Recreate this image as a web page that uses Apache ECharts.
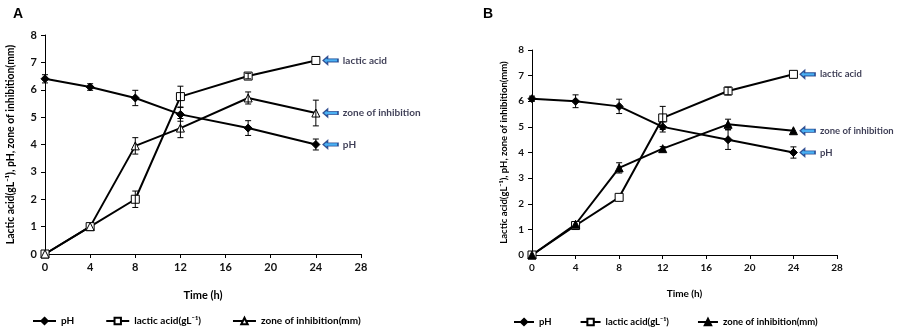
<!DOCTYPE html>
<html><head><meta charset="utf-8">
<script src="https://cdn.jsdelivr.net/npm/echarts@6/dist/echarts.min.js"></script>
<style>html,body{margin:0;padding:0;background:#fff}#c{width:900px;height:331px}</style>
</head><body><div id="c"></div>
<script>
// ---- data ----
const timeH = [0, 4, 8, 12, 18, 24];
const xTicks = [0, 4, 8, 12, 16, 20, 24, 28];
const yTicks = [0, 1, 2, 3, 4, 5, 6, 7, 8];

// Panel A
const phA       = [6.4, 6.1, 5.7, 5.1, 4.6, 4.0];
const phErrA    = [0.15, 0.12, 0.28, 0.25, 0.27, 0.2];
const lacticA   = [0, 1.0, 2.0, 5.75, 6.5, 7.07];
const lacticErrA= [0, 0, 0.3, 0.38, 0.1, 0];
const zoneA     = [0, 1.0, 3.95, 4.6, 5.7, 5.15];
const zoneErrA  = [0, 0, 0.3, 0.35, 0.22, 0.47];

// Panel B
const phB       = [6.1, 6.0, 5.8, 5.0, 4.5, 4.0];
const phErrB    = [0.1, 0.25, 0.28, 0.2, 0.38, 0.22];
const lacticB   = [0, 1.15, 2.25, 5.35, 6.4, 7.05];
const lacticErrB= [0, 0, 0, 0.45, 0.15, 0];
const zoneB     = [0, 1.2, 3.4, 4.15, 5.1, 4.85];
const zoneErrB  = [0, 0, 0.2, 0.08, 0.2, 0];

const names = ['pH', 'lactic acid(gL⁻¹)', 'zone of inhibition(mm)'];
const annotTexts = ['pH', 'lactic acid', 'zone of inhibition'];
const annotX = 25.3;

// ---- helpers ----
const FONT = 'Lato, "Open Sans", sans-serif';
function pairs(ys){ return timeH.map((t,i)=>[t, ys[i]]); }
function errData(ys, es){ return timeH.map((t,i)=>[t, ys[i], es[i]]).filter(d=>d[2]>0); }
function renderErr(params, api){
  const x=api.value(0), y=api.value(1), e=api.value(2);
  const top=api.coord([x,y+e]), bot=api.coord([x,y-e]);
  const w=3, st={stroke:'#000', lineWidth:1};
  return {type:'group', children:[
    {type:'line', shape:{x1:top[0],y1:top[1],x2:bot[0],y2:bot[1]}, style:st},
    {type:'line', shape:{x1:top[0]-w,y1:top[1],x2:top[0]+w,y2:top[1]}, style:st},
    {type:'line', shape:{x1:bot[0]-w,y1:bot[1],x2:bot[0]+w,y2:bot[1]}, style:st}
  ]};
}
const arrowPath = 'path://M0,5 L6,0 L6,3 L20,3 L20,7 L6,7 L6,10 Z';

function lineSeries(name, ys, idx, symbol, fill){
  return {type:'line', name, data:pairs(ys), xAxisIndex:idx, yAxisIndex:idx,
    symbol, symbolSize:8, showAllSymbol:true,
    lineStyle:{color:'#000', width:2}, itemStyle:{color:fill, borderColor:'#000', borderWidth:1},
    z:3, animation:false};
}
function errSeries(ys, es, idx){
  return {type:'custom', name:'err', renderItem:renderErr, data:errData(ys,es),
    xAxisIndex:idx, yAxisIndex:idx, z:4, animation:false, silent:true};
}
function annotSeries(idx, lastVals, fs){
  return {type:'scatter', name:'annot', xAxisIndex:idx, yAxisIndex:idx,
    data: lastVals.map((v,i)=>({value:[annotX, v], label:{formatter:annotTexts[i]}})),
    symbol: arrowPath, symbolSize:[15,8],
    itemStyle:{color:'#1e9cf0', borderColor:'#13307a', borderWidth:1.2},
    label:{show:true, position:'right', distance:4, color:'#0d0d2a', fontFamily:FONT, fontWeight:'bold', fontSize:fs},
    silent:true, animation:false, z:5};
}
function xAxis(idx, gap, fs){
  return {type:'value', gridIndex:idx, min:0, max:28, interval:4, name:'Time (h)', nameLocation:'middle', nameGap:gap,
    nameTextStyle:{color:'#000', fontFamily:FONT, fontWeight:'bold', fontSize:fs},
    axisLine:{show:true, onZero:false, lineStyle:{color:'#000', width:1}},
    axisTick:{show:true, length:4, lineStyle:{color:'#000'}},
    axisLabel:{color:'#111', fontFamily:FONT, fontWeight:'bold', fontSize:fs, margin:8,
      customValues: xTicks},
    splitLine:{show:false}};
}
function yAxis(idx, gap, fs, nfs){
  return {type:'value', gridIndex:idx, min:0, max:8, interval:1,
    name:'Lactic acid(gL⁻¹), pH, zone of inhibition(mm)', nameLocation:'middle', nameGap:gap,
    nameTextStyle:{color:'#000', fontFamily:FONT, fontWeight:'bold', fontSize:nfs},
    axisLine:{show:true, lineStyle:{color:'#000', width:1}},
    axisTick:{show:true, length:4, lineStyle:{color:'#000'}},
    axisLabel:{color:'#111', fontFamily:FONT, fontWeight:'bold', fontSize:fs, margin:8, customValues: yTicks},
    splitLine:{show:false}};
}

const option = {
  backgroundColor:'#fff',
  animation:false,
  title:[
    {text:'A', left:8, top:2, textStyle:{fontFamily:'Liberation Sans, Arial', fontWeight:'bold', fontSize:14, color:'#000'}},
    {text:'B', left:478, top:2, textStyle:{fontFamily:'Liberation Sans, Arial', fontWeight:'bold', fontSize:14, color:'#000'}}
  ],
  grid:[
    {left:45, top:35, width:316, height:219},
    {left:532, top:50, width:305, height:205}
  ],
  xAxis:[xAxis(0, 36, 11), xAxis(1, 34, 10)],
  yAxis:[yAxis(0, 29, 11, 10.4), yAxis(1, 23, 10, 9.5)],
  legend:[
    {data:names, left:27, top:311, itemWidth:23, itemHeight:8, itemGap:31,
     textStyle:{color:'#000', fontFamily:FONT, fontWeight:'bold', fontSize:10}},
    {data:[names[0], names[1], {name:names[2], itemStyle:{color:'#000'}}], left:508, top:312, itemWidth:20, itemHeight:8, itemGap:28,
     textStyle:{color:'#000', fontFamily:FONT, fontWeight:'bold', fontSize:9.5}}
  ],
  series:[
    lineSeries(names[0], phA, 0, 'diamond', '#000'),
    lineSeries(names[1], lacticA, 0, 'rect', '#fff'),
    lineSeries(names[2], zoneA, 0, 'triangle', '#fff'),
    errSeries(phA, phErrA, 0), errSeries(lacticA, lacticErrA, 0), errSeries(zoneA, zoneErrA, 0),
    annotSeries(0, [phA[5], lacticA[5], zoneA[5]], 10),
    lineSeries(names[0], phB, 1, 'diamond', '#000'),
    lineSeries(names[1], lacticB, 1, 'rect', '#fff'),
    lineSeries(names[2], zoneB, 1, 'triangle', '#000'),
    errSeries(phB, phErrB, 1), errSeries(lacticB, lacticErrB, 1), errSeries(zoneB, zoneErrB, 1),
    annotSeries(1, [phB[5], lacticB[5], zoneB[5]], 9.5)
  ]
};
const chart = echarts.init(document.getElementById('c'), null, {renderer:'canvas'});
chart.setOption(option);
</script></body></html>
